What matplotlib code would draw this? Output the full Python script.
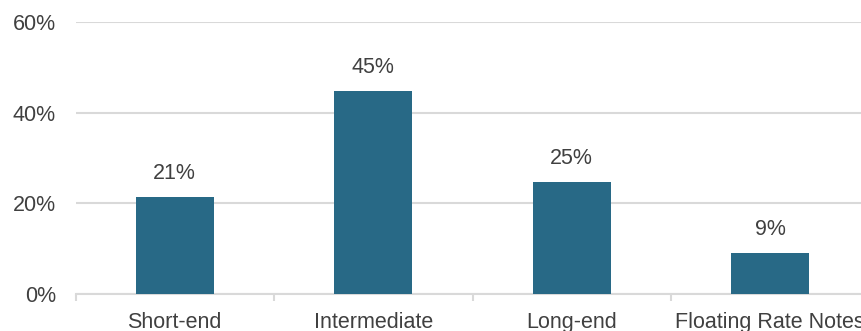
import matplotlib.pyplot as plt
import numpy as np

# --- DATA ---
categories = ["Short-end", "Intermediate", "Long-end", "Floating Rate Notes"]
shares = [21.3, 44.8, 24.6, 9.1]
labels = ["21%", "45%", "25%", "9%"]

BAR_COLOR = "#286986"
GRID_COLOR = "#D9D9D9"
TEXT_COLOR = "#404040"
FS = 15.5

plt.rcParams["font.family"] = ["Liberation Sans", "DejaVu Sans"]

fig = plt.figure(figsize=(8.61, 3.31), dpi=100)
# axes spans slightly past the right edge, like the source (labels get cut too)
ax = fig.add_axes([75.5 / 861, 37 / 331, 794 / 861, 272 / 331])

x = np.arange(len(categories))
ax.bar(x, shares, width=0.395, color=BAR_COLOR, zorder=3)

for xi, v, lab in zip(x, shares, labels):
    ax.annotate(lab, (xi, v), xytext=(0, 9.5), textcoords="offset points",
                ha="center", va="bottom", fontsize=FS, color=TEXT_COLOR)

ax.set_xlim(-0.5, len(categories) - 0.5)
ax.set_ylim(0, 60)
ax.set_yticks([0, 20, 40, 60])
ax.set_yticklabels(["0%", "20%", "40%", "60%"])
ax.yaxis.grid(True, color=GRID_COLOR, linewidth=1.5, zorder=0)
ax.tick_params(axis="y", length=0, pad=14, labelsize=FS, labelcolor=TEXT_COLOR)

ax.set_xticks(x)
ax.set_xticklabels(categories)
ax.tick_params(axis="x", which="major", length=0, pad=13, labelsize=FS,
               labelcolor=TEXT_COLOR)
ax.set_xticks(np.arange(-0.5, len(categories)), minor=True)
ax.tick_params(axis="x", which="minor", length=5, width=1.5, color=GRID_COLOR)

for side in ["top", "right", "left"]:
    ax.spines[side].set_visible(False)
ax.spines["bottom"].set_color(GRID_COLOR)
ax.spines["bottom"].set_linewidth(1.5)

fig.savefig("out.png", dpi=100)
